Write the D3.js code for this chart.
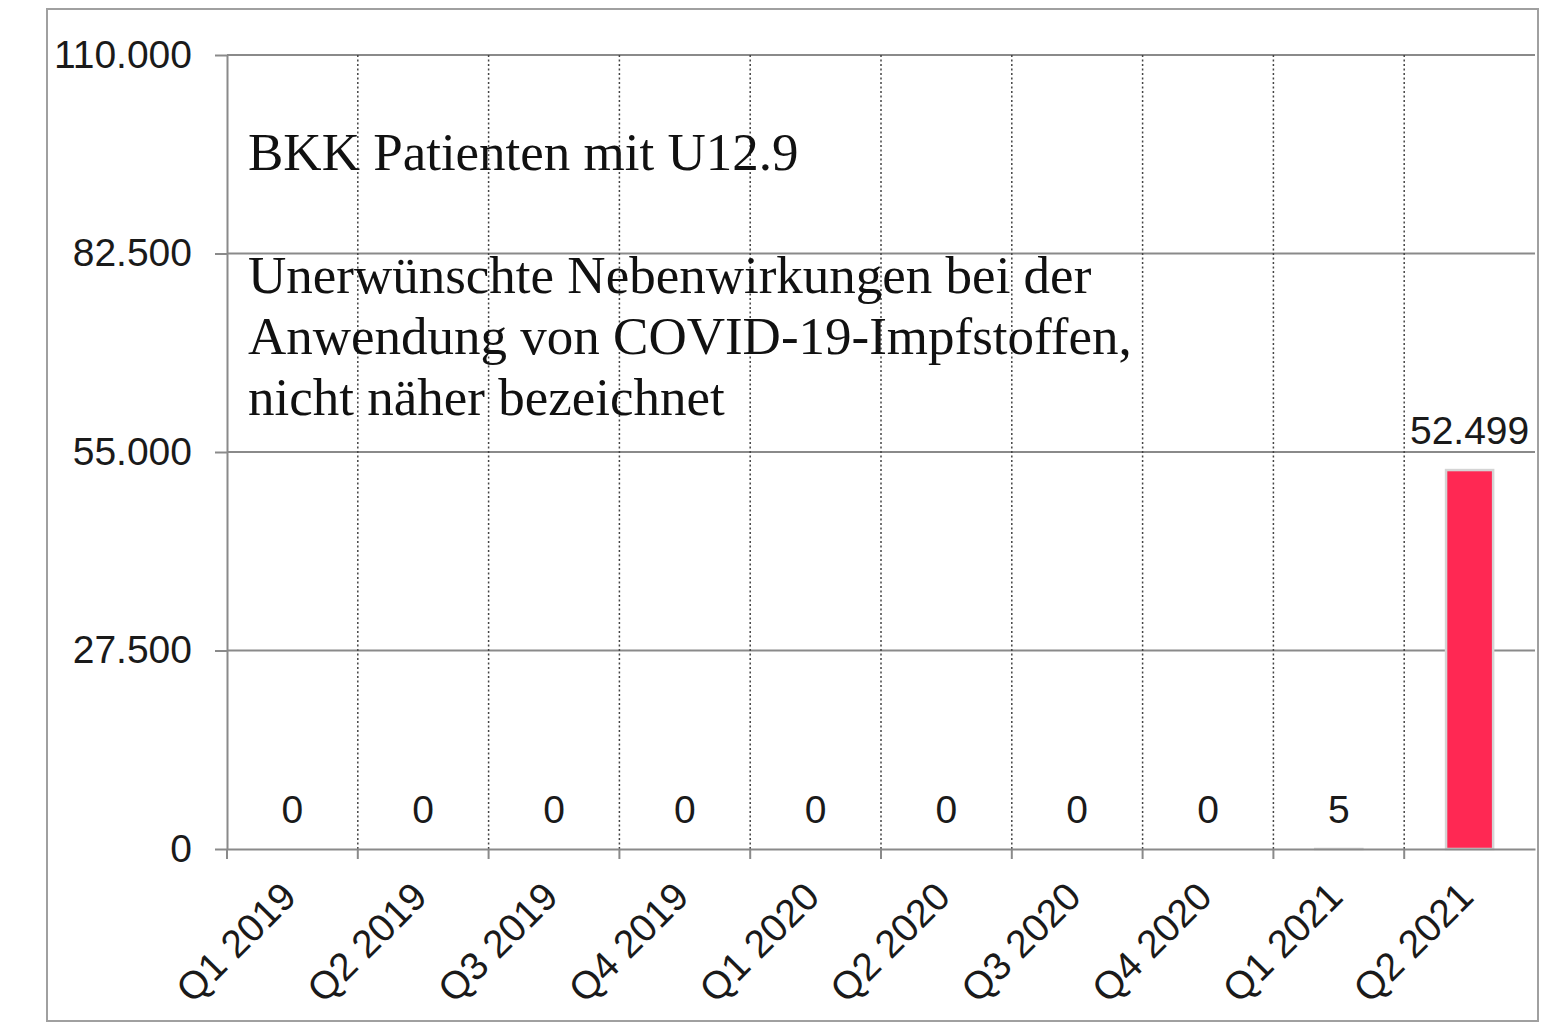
<!DOCTYPE html>
<html>
<head>
<meta charset="utf-8">
<style>
  body { margin: 0; background: #fff; }
  text { font-family: "Liberation Sans", Arial, sans-serif; fill: #1a1a1a; }
  .title { font-family: "Liberation Serif", "Times New Roman", serif; fill: #111; }
</style>
</head>
<body>
<svg width="1541" height="1032"></svg>
<script src="https://d3js.org/d3.v7.min.js"></script>
<script>

// BKK Patienten mit U12.9 je Quartal

var categories = ["Q1 2019", "Q2 2019", "Q3 2019", "Q4 2019", "Q1 2020",
                  "Q2 2020", "Q3 2020", "Q4 2020", "Q1 2021", "Q2 2021"];
var patients = [0, 0, 0, 0, 0, 0, 0, 0, 5, 52499];
var yTicks = [0, 27500, 55000, 82500, 110000];
var titleLines = ["BKK Patienten mit U12.9"];
var subtitleLines = ["Unerwünschte Nebenwirkungen bei der",
                     "Anwendung von COVID-19-Impfstoffen,",
                     "nicht näher bezeichnet"];

var svg = d3.select("svg"),
    plotLeft = 227, plotRight = 1535, plotTop = 55, plotBottom = 849;

var de = d3.formatLocale({decimal: ",", thousands: ".", grouping: [3], currency: ["", " €"]});
var fmt = de.format(",d");

var x = d3.scaleBand()
    .domain(categories)
    .range([plotLeft, plotRight])
    .padding(0);

var y = d3.scaleLinear()
    .domain([0, 110000])
    .range([plotBottom, plotTop]);

// outer frame
svg.append("rect")
    .attr("x", 47).attr("y", 9)
    .attr("width", 1491).attr("height", 1012)
    .attr("fill", "#fff")
    .attr("stroke", "#a0a0a0")
    .attr("stroke-width", 2);

// horizontal grid + y axis
var yAxis = svg.append("g")
    .attr("transform", "translate(" + plotLeft + ",0)")
    .call(d3.axisLeft(y).tickValues(yTicks).tickFormat(fmt)
      .tickSize(12).tickSizeOuter(0).tickPadding(23));
yAxis.select(".domain").attr("stroke", "#8a8a8a").attr("stroke-width", 2);
yAxis.selectAll(".tick line").attr("stroke", "#8a8a8a").attr("stroke-width", 2);
yAxis.selectAll(".tick text")
    .attr("font-size", 39)
    .attr("font-family", "Liberation Sans, Arial, sans-serif")
    .attr("fill", "#1a1a1a");

svg.append("g").selectAll("line")
    .data(yTicks.filter(function(d) { return d > 0; }))
  .enter().append("line")
    .attr("x1", plotLeft).attr("x2", plotRight)
    .attr("y1", function(d) { return y(d); })
    .attr("y2", function(d) { return y(d); })
    .attr("stroke", "#8a8a8a")
    .attr("stroke-width", 2);

// dotted vertical grid at category boundaries
svg.append("g").selectAll("line")
    .data(categories.slice(1))
  .enter().append("line")
    .attr("x1", function(d) { return x(d); })
    .attr("x2", function(d) { return x(d); })
    .attr("y1", plotTop).attr("y2", plotBottom)
    .attr("stroke", "#444")
    .attr("stroke-width", 1.5)
    .attr("stroke-dasharray", "2,2.5");

// bars
var barW = x.bandwidth() * 0.36;
svg.append("g").selectAll("rect")
    .data(patients)
  .enter().append("rect")
    .attr("x", function(d, i) { return x(categories[i]) + x.bandwidth() / 2 - barW / 2; })
    .attr("y", function(d) { return y(d); })
    .attr("width", barW)
    .attr("height", function(d) { return plotBottom - y(d); })
    .attr("fill", "#ff2853")
    .attr("stroke", function(d) { return d > 0 ? "#d4d4d4" : "none"; })
    .attr("stroke-width", 2.5);

// x axis
var xAxis = svg.append("g")
    .attr("transform", "translate(0," + plotBottom + ")")
    .call(d3.axisBottom(x).tickSize(0).tickFormat(""));
xAxis.select(".domain").attr("stroke", "#8a8a8a").attr("stroke-width", 2);

svg.append("g").selectAll("line")
    .data(categories)
  .enter().append("line")
    .attr("x1", function(d) { return x(d); })
    .attr("x2", function(d) { return x(d); })
    .attr("y1", plotBottom).attr("y2", plotBottom + 10)
    .attr("stroke", "#8a8a8a")
    .attr("stroke-width", 2);

svg.append("g").selectAll("text")
    .data(categories)
  .enter().append("text")
    .attr("transform", function(d) {
      return "translate(" + (x(d) + x.bandwidth() / 2 + 6) + "," + (plotBottom + 50) + ") rotate(-45)";
    })
    .attr("text-anchor", "end")
    .attr("font-size", 39)
    .text(function(d) { return d; });

// value labels
svg.append("g").selectAll("text")
    .data(patients)
  .enter().append("text")
    .attr("x", function(d, i) { return x(categories[i]) + x.bandwidth() / 2; })
    .attr("y", function(d) { return y(d) - 26; })
    .attr("text-anchor", "middle")
    .attr("font-size", 39)
    .text(function(d) { return fmt(d); });

// title block
svg.append("text")
    .attr("class", "title")
    .attr("x", 248).attr("y", 170)
    .attr("font-size", 53)
    .text(titleLines[0]);

svg.append("text")
    .attr("class", "title")
    .attr("font-size", 53)
  .selectAll("tspan")
    .data(subtitleLines)
  .enter().append("tspan")
    .attr("x", 248)
    .attr("y", function(d, i) { return 293 + i * 61; })
    .text(function(d) { return d; });

</script>
</body>
</html>
